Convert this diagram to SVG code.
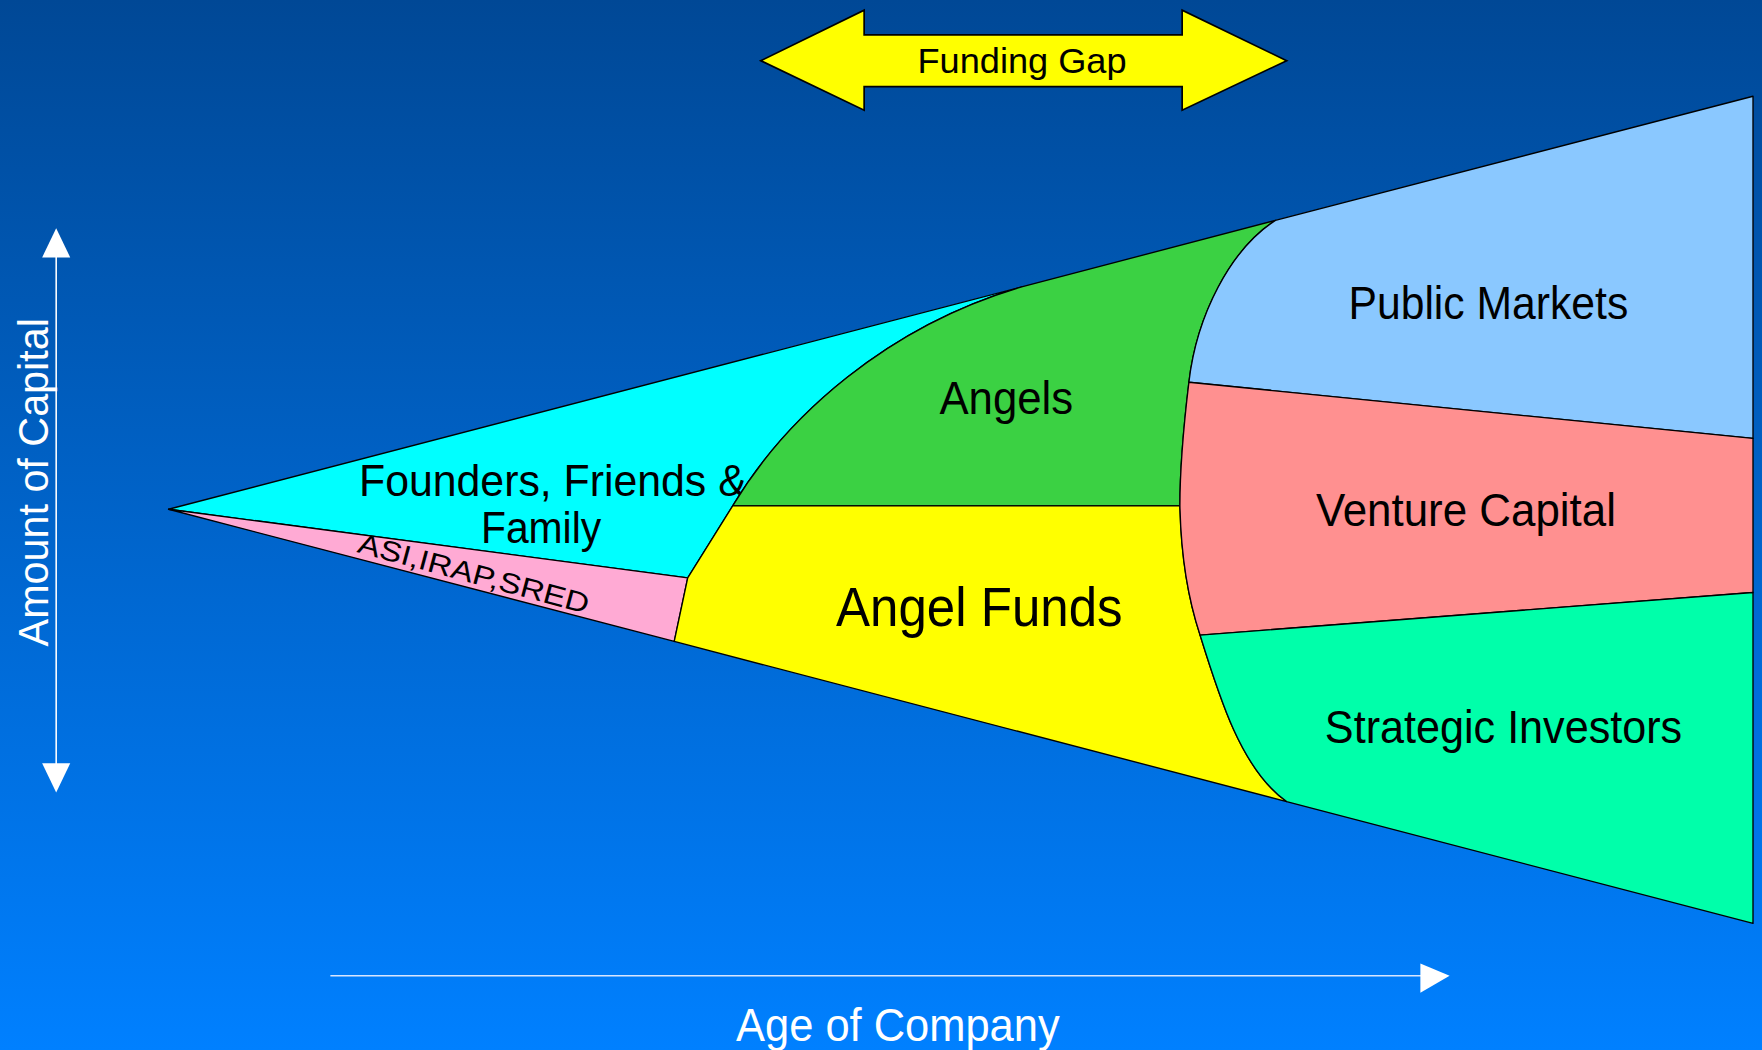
<svg xmlns="http://www.w3.org/2000/svg" width="1762" height="1050" viewBox="0 0 1762 1050">
<defs>
<linearGradient id="bg" x1="0" y1="0" x2="0" y2="1">
<stop offset="0" stop-color="#004896"/>
<stop offset="1" stop-color="#0080FF"/>
</linearGradient>
<style>
.reg{stroke:#000;stroke-width:1.2;stroke-linejoin:round}
.lbl{font-family:"Liberation Sans",Arial,sans-serif;fill:#000;text-anchor:middle}
.wlbl{font-family:"Liberation Sans",Arial,sans-serif;fill:#fff;text-anchor:middle}
.axis{stroke:#fff;stroke-width:1.4;fill:none}
.head{fill:#fff;stroke:none}
</style>
</defs>
<rect x="0" y="0" width="1762" height="1050" fill="url(#bg)"/>
<g transform="scale(1.12372 1.12420)">
<g id="founders">
<path class="reg" fill="#00FFFF" d="M150,453 L910,255 C790,290 700,370 652,450 L612,514 Z"/>
<text class="lbl" x="492" y="441" font-size="40" textLength="345" lengthAdjust="spacingAndGlyphs">Founders, Friends &amp;</text>
<text class="lbl" x="481.5" y="483" font-size="40" textLength="107" lengthAdjust="spacingAndGlyphs">Family</text>
</g>
<g id="asi-irap-sred">
<path class="reg" fill="#FFAAD4" d="M150,453 L612,514 L600,570.6 Z"/>
<text class="lbl" style="text-anchor:start" transform="translate(317,491) rotate(15)" font-size="25" textLength="212" lengthAdjust="spacingAndGlyphs">ASI,IRAP,SRED</text>
</g>
<g id="angels">
<path class="reg" fill="#3BD143" d="M652,450 C700,370 790,290 910,255 L1135,196 C1095,222 1065,280 1058,340 C1052,390 1050,420 1050,450 Z"/>
<text class="lbl" x="895.5" y="368" font-size="41" textLength="119" lengthAdjust="spacingAndGlyphs">Angels</text>
</g>
<g id="angel-funds">
<path class="reg" fill="#FFFF00" d="M652,450 L1050,450 C1051,495 1058,535 1068,565 C1085,620 1105,685 1145,713 L600,570.6 L612,514 Z"/>
<text class="lbl" x="871.5" y="557" font-size="49" textLength="255" lengthAdjust="spacingAndGlyphs">Angel Funds</text>
</g>
<g id="public-markets">
<path class="reg" fill="#8AC8FF" d="M1135,196 L1560,85.6 L1560,390 L1058,340 C1065,280 1095,222 1135,196 Z"/>
<text class="lbl" x="1324.5" y="284" font-size="41" textLength="249" lengthAdjust="spacingAndGlyphs">Public Markets</text>
</g>
<g id="venture-capital">
<path class="reg" fill="#FF9090" d="M1058,340 L1560,390 L1560,527 L1068,565 C1058,535 1051,495 1050,450 C1050,420 1052,390 1058,340 Z"/>
<text class="lbl" x="1304.5" y="468" font-size="41" textLength="267" lengthAdjust="spacingAndGlyphs">Venture  Capital</text>
</g>
<g id="strategic-investors">
<path class="reg" fill="#00FFAA" d="M1068,565 L1560,527 L1560,821.4 L1145,713 C1105,685 1085,620 1068,565 Z"/>
<text class="lbl" x="1338" y="661" font-size="41" textLength="318" lengthAdjust="spacingAndGlyphs">Strategic Investors</text>
</g>
<g id="funding-gap">
<path fill="#FFFF00" stroke="#000" stroke-width="1.5" stroke-linejoin="miter" d="M677,54 L769,9 L769,31 L1052,31 L1052,9 L1145,54 L1052,98 L1052,77 L769,77 L769,98 Z"/>
<text class="lbl" x="909.5" y="65" font-size="32" textLength="186" lengthAdjust="spacingAndGlyphs">Funding Gap</text>
</g>
<g id="connectors">
<line class="axis" x1="50" y1="226" x2="50" y2="682"/>
<path class="head" d="M50,203 L62.5,229 L37.5,229 Z"/>
<path class="head" d="M50,705 L62.5,679 L37.5,679 Z"/>
<line class="axis" x1="294" y1="868" x2="1266" y2="868" style="stroke:#D8E6FF"/>
<path class="head" d="M1290,868 L1264,857 L1264,883 Z"/>
</g>
<g id="axis-labels">
<text class="wlbl" transform="translate(43,429) rotate(-90)" font-size="38" textLength="292" lengthAdjust="spacingAndGlyphs">Amount of Capital</text>
<text class="wlbl" x="799" y="926" font-size="41" textLength="288" lengthAdjust="spacingAndGlyphs">Age of Company</text>
</g>
</g>
</svg>
